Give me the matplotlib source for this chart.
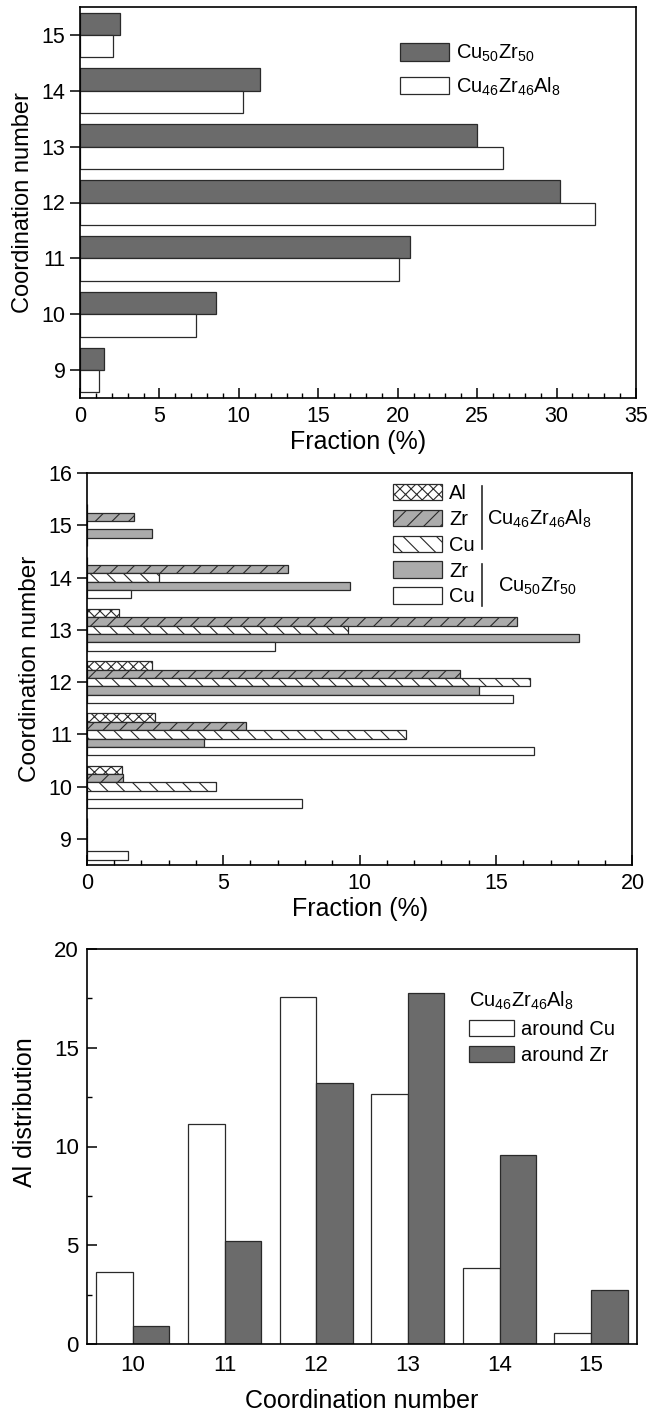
import matplotlib
matplotlib.use("Agg")
import matplotlib.pyplot as plt
from matplotlib.patches import Patch
from matplotlib.ticker import MultipleLocator
import numpy as np

plt.rcParams['font.family'] = ['Liberation Sans', 'DejaVu Sans']
plt.rcParams['mathtext.fontset'] = 'custom'
plt.rcParams['mathtext.rm'] = 'Liberation Sans'
plt.rcParams['mathtext.it'] = 'Liberation Sans:italic'
plt.rcParams['hatch.linewidth'] = 0.8
plt.rcParams['axes.linewidth'] = 1.2

# ---------------- data ----------------
# Panel (a): coordination number distribution
cn_a = [9, 10, 11, 12, 13, 14, 15]
frac_cu50zr50 = [1.52, 8.59, 20.77, 30.2, 25.0, 11.3, 2.52]
frac_cu46zr46al8 = [1.21, 7.3, 20.09, 32.45, 26.6, 10.24, 2.05]

# Panel (b): partial distributions
cn_b = [9, 10, 11, 12, 13, 14, 15]
al_46 = [0, 1.28, 2.51, 2.38, 1.19, 0, 0]
zr_46 = [0, 1.32, 5.84, 13.69, 15.76, 7.39, 1.73]
cu_46 = [0, 4.73, 11.69, 16.26, 9.59, 2.64, 0]
zr_50 = [0, 0, 4.30, 14.38, 18.04, 9.66, 2.38]
cu_50 = [1.53, 7.88, 16.39, 15.61, 6.89, 1.62, 0]

# Panel (c): Al distribution
cn_c = [10, 11, 12, 13, 14, 15]
al_around_cu = [3.65, 11.16, 17.56, 12.66, 3.85, 0.54]
al_around_zr = [0.92, 5.24, 13.24, 17.76, 9.55, 2.74]

lbl_50 = r'$\mathrm{Cu_{50}Zr_{50}}$'
lbl_46 = r'$\mathrm{Cu_{46}Zr_{46}Al_{8}}$'

DARK = '#6b6b6b'
GRAY = '#ababab'
EDGE = '#2a2a2a'
TICK_FS = 15.5
XLAB_FS = 18
YLAB_FS = 17
LEG_FS = 14.5

W, H = 650, 1414
fig = plt.figure(figsize=(W / 100, H / 100), dpi=100)


def px_axes(l, r, t, b):
    return fig.add_axes([l / W, 1 - b / H, (r - l) / W, (b - t) / H])


# ---------------- Panel (a) ----------------
ax1 = px_axes(80, 636, 7, 398)
y = np.array(cn_a, dtype=float)
ax1.barh(y, frac_cu50zr50, height=0.4, align='edge', color=DARK,
         edgecolor=EDGE, linewidth=0.9, label=lbl_50)
ax1.barh(y, frac_cu46zr46al8, height=-0.4, align='edge', color='white',
         edgecolor=EDGE, linewidth=0.9, label=lbl_46)
ax1.set_xlim(0, 35)
ax1.set_ylim(8.5, 15.5)
ax1.set_yticks(cn_a)
ax1.xaxis.set_major_locator(MultipleLocator(5))
ax1.xaxis.set_minor_locator(MultipleLocator(1))
ax1.tick_params(axis='y', direction='out', length=7, width=1.1, labelsize=TICK_FS)
ax1.tick_params(axis='x', which='major', direction='in', length=7, width=1.1,
                labelsize=TICK_FS, pad=6)
ax1.tick_params(axis='x', which='minor', direction='in', length=3.5, width=1.0)
ax1.set_xlabel('Fraction (%)', fontsize=XLAB_FS, labelpad=2)
ax1.set_ylabel('Coordination number', fontsize=YLAB_FS, labelpad=5)
leg1 = ax1.legend(loc='upper left', bbox_to_anchor=(0.575, 0.908), frameon=False,
                  fontsize=LEG_FS, handlelength=2.45, handleheight=0.93,
                  handletextpad=0.35, labelspacing=0.55, borderpad=0,
                  borderaxespad=0)

# ---------------- Panel (b) ----------------
ax2 = px_axes(86.7, 632.5, 473, 865)
yb = np.array(cn_b, dtype=float)
h = 0.16
series_b = [
    (al_46, 'white', 'xxx', 'Al', 0.32),
    (zr_46, GRAY, '//', 'Zr', 0.16),
    (cu_46, 'white', '\\\\', 'Cu', 0.0),
    (zr_50, GRAY, None, 'Zr', -0.16),
    (cu_50, 'white', None, 'Cu', -0.32),
]
handles = []
for vals, fc, hatch, lab, off in series_b:
    ax2.barh(yb + off, vals, height=h, color=fc, edgecolor=EDGE,
             linewidth=0.9, hatch=hatch)
    handles.append(Patch(facecolor=fc, edgecolor=EDGE, hatch=hatch,
                         linewidth=0.9, label=lab))
ax2.set_xlim(0, 20)
ax2.set_ylim(8.5, 16)
ax2.set_yticks(range(9, 17))
ax2.xaxis.set_major_locator(MultipleLocator(5))
ax2.xaxis.set_minor_locator(MultipleLocator(1))
ax2.tick_params(axis='y', direction='out', length=7, width=1.1, labelsize=TICK_FS)
ax2.tick_params(axis='x', which='major', direction='in', length=7, width=1.1,
                labelsize=TICK_FS, pad=6)
ax2.tick_params(axis='x', which='minor', direction='in', length=3.5, width=1.0)
ax2.set_xlabel('Fraction (%)', fontsize=XLAB_FS, labelpad=2)
ax2.set_ylabel('Coordination number', fontsize=YLAB_FS + 0.5, labelpad=5)
leg2 = ax2.legend(handles=handles, loc='upper left', bbox_to_anchor=(0.5604, 0.972),
                  frameon=False, fontsize=LEG_FS, handlelength=2.45,
                  handleheight=0.88, handletextpad=0.35, labelspacing=0.33,
                  borderpad=0, borderaxespad=0)
# group brackets
ax2.plot([0.724, 0.724], [0.806, 0.967], transform=ax2.transAxes,
         color=EDGE, lw=1.2, clip_on=False)
ax2.text(0.733, 0.882, lbl_46, transform=ax2.transAxes, fontsize=LEG_FS,
         ha='left', va='center')
ax2.plot([0.7234, 0.7234], [0.661, 0.767], transform=ax2.transAxes,
         color=EDGE, lw=1.2, clip_on=False)
ax2.text(0.753, 0.712, lbl_50, transform=ax2.transAxes, fontsize=LEG_FS,
         ha='left', va='center')

# ---------------- Panel (c) ----------------
ax3 = px_axes(87, 637, 949, 1344)
xc = np.array(cn_c, dtype=float)
ax3.bar(xc, al_around_cu, width=-0.4, align='edge', color='white',
        edgecolor=EDGE, linewidth=0.9, label='around Cu')
ax3.bar(xc, al_around_zr, width=0.4, align='edge', color=DARK,
        edgecolor=EDGE, linewidth=0.9, label='around Zr')
ax3.set_xlim(9.5, 15.5)
ax3.set_ylim(0, 20)
ax3.set_xticks(cn_c)
ax3.yaxis.set_major_locator(MultipleLocator(5))
ax3.yaxis.set_minor_locator(MultipleLocator(2.5))
ax3.tick_params(axis='x', length=0, labelsize=TICK_FS + 0.5, pad=8)
ax3.tick_params(axis='y', which='major', direction='in', length=7, width=1.1,
                labelsize=TICK_FS + 0.5, pad=6)
ax3.tick_params(axis='y', which='minor', direction='in', length=3.5, width=1.0)
ax3.set_xlabel('Coordination number', fontsize=XLAB_FS, labelpad=9)
ax3.set_ylabel('Al distribution', fontsize=XLAB_FS)
ax3.yaxis.set_label_coords(-0.09, 0.587)
leg3 = ax3.legend(loc='upper left', bbox_to_anchor=(0.694, 0.896), frameon=False,
                  fontsize=LEG_FS, title=lbl_46, title_fontsize=LEG_FS,
                  alignment='left', handlelength=2.25, handleheight=0.85,
                  handletextpad=0.35, labelspacing=0.36, borderpad=0,
                  borderaxespad=0)

fig.savefig('out.png', dpi=100)
